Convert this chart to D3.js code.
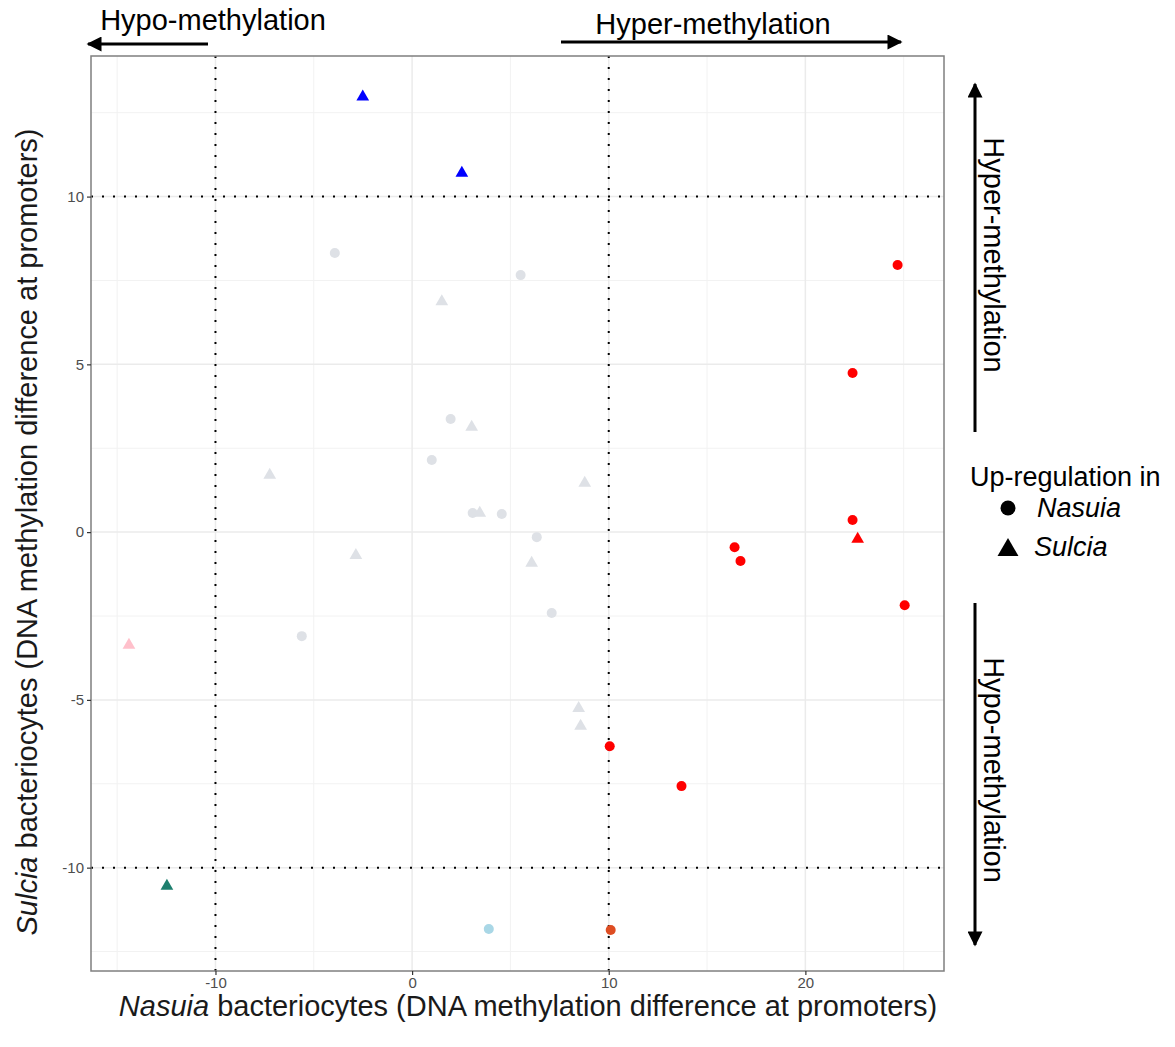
<!DOCTYPE html>
<html>
<head>
<meta charset="utf-8">
<script src="https://cdn.jsdelivr.net/npm/d3@7"></script>
<style>
  body { margin: 0; background: #fff; }
  svg { font-family: "Liberation Sans", Arial, sans-serif; }
</style>
</head>
<body>
<svg id="chart" width="1175" height="1047"></svg>
<script>
// -------------------------
// Data
// -------------------------
// x = Nasuia methylation difference, y = Sulcia methylation difference
const circleX = [-3.93, 5.52, 1.96, 1.0, 3.08, 4.56, 6.34, 7.10, -5.61, 3.90,
                 24.69, 22.4, 22.4, 16.4, 16.7, 25.05, 10.05, 13.7, 10.1];
const circleY = [8.32, 7.66, 3.37, 2.15, 0.57, 0.54, -0.15, -2.41, -3.10, -11.83,
                 7.96, 4.74, 0.36, -0.45, -0.86, -2.18, -6.38, -7.57, -11.86];
const circleCol = ["grey", "grey", "grey", "grey", "grey", "grey", "grey", "grey", "grey", "lightblue",
                   "red", "red", "red", "red", "red", "red", "red", "red", "orange"];

const triX = [-2.51, 2.53, 1.51, 3.03, -7.24, 8.78, 3.44, -2.86, 6.08, 8.47, 8.57, -14.4, -12.47, 22.66];
const triY = [13.0, 10.73, 6.9, 3.16, 1.73, 1.49, 0.6, -0.66, -0.89, -5.22, -5.75, -3.34, -10.52, -0.18];
const triCol = ["blue", "blue", "grey", "grey", "grey", "grey", "grey", "grey", "grey", "grey", "grey",
                "pink", "teal", "red"];

const xTicks = [-10, 0, 10, 20];
const yTicks = [-10, -5, 0, 5, 10];
const xMinor = [-15, -5, 5, 15, 25];
const yMinor = [-12.5, -7.5, -2.5, 2.5, 7.5, 12.5];
const cutX = [-10, 10];
const cutY = [-10, 10];

const palette = {
    grey: "#dee1e6", lightblue: "#a9d7e6", red: "#ff0000", orange: "#de4d22",
    blue: "#0000ff", pink: "#ffc0cb", teal: "#1d7f6e"
};

// -------------------------
// Layout
// -------------------------
const svg = d3.select("#chart");
const P = {left: 91, right: 944, top: 56, bottom: 971};

const x = d3.scaleLinear().domain([-16.33, 27.05]).range([P.left, P.right]);
const y = d3.scaleLinear().domain([-13.08, 14.19]).range([P.bottom, P.top]);

const g = svg.append("g");

// gridlines
g.selectAll("line.xminor").data(xMinor).enter().append("line")
    .attr("x1", d => x(d)).attr("x2", d => x(d)).attr("y1", P.top).attr("y2", P.bottom)
    .attr("stroke", "#f2f2f2").attr("stroke-width", 1);
g.selectAll("line.yminor").data(yMinor).enter().append("line")
    .attr("y1", d => y(d)).attr("y2", d => y(d)).attr("x1", P.left).attr("x2", P.right)
    .attr("stroke", "#f2f2f2").attr("stroke-width", 1);
g.selectAll("line.xmajor").data(xTicks).enter().append("line")
    .attr("x1", d => x(d)).attr("x2", d => x(d)).attr("y1", P.top).attr("y2", P.bottom)
    .attr("stroke", "#ebebeb").attr("stroke-width", 1.5);
g.selectAll("line.ymajor").data(yTicks).enter().append("line")
    .attr("y1", d => y(d)).attr("y2", d => y(d)).attr("x1", P.left).attr("x2", P.right)
    .attr("stroke", "#ebebeb").attr("stroke-width", 1.5);

// dotted cut-off lines
g.selectAll("line.cx").data(cutX).enter().append("line")
    .attr("x1", d => x(d)).attr("x2", d => x(d)).attr("y1", P.top).attr("y2", P.bottom)
    .attr("stroke", "#000").attr("stroke-width", 2).attr("stroke-dasharray", "2,9");
g.selectAll("line.cy").data(cutY).enter().append("line")
    .attr("y1", d => y(d)).attr("y2", d => y(d)).attr("x1", P.left).attr("x2", P.right)
    .attr("stroke", "#000").attr("stroke-width", 2).attr("stroke-dasharray", "2,9");

// points
const circles = circleX.map((v, i) => ({x: v, y: circleY[i], c: circleCol[i]}));
const tris = triX.map((v, i) => ({x: v, y: triY[i], c: triCol[i]}));
const triPath = d3.symbol().type(d3.symbolTriangle).size(70);

g.selectAll("circle.pt").data(circles).enter().append("circle")
    .attr("cx", d => x(d.x)).attr("cy", d => y(d.y)).attr("r", 5)
    .attr("fill", d => palette[d.c]);
g.selectAll("path.pt").data(tris).enter().append("path")
    .attr("d", triPath)
    .attr("transform", d => `translate(${x(d.x)},${y(d.y) + 1})`)
    .attr("fill", d => palette[d.c]);

// panel border
g.append("rect")
    .attr("x", P.left).attr("y", P.top)
    .attr("width", P.right - P.left).attr("height", P.bottom - P.top)
    .attr("fill", "none").attr("stroke", "#7f7f7f").attr("stroke-width", 1.5);

// axes
const fmt = d => String(d);
const xAxis = svg.append("g").attr("transform", `translate(0,${P.bottom})`)
    .call(d3.axisBottom(x).tickValues(xTicks).tickFormat(fmt).tickSize(4).tickPadding(2));
const yAxis = svg.append("g").attr("transform", `translate(${P.left},0)`)
    .call(d3.axisLeft(y).tickValues(yTicks).tickFormat(fmt).tickSize(4).tickPadding(3));
[xAxis, yAxis].forEach(a => {
    a.attr("font-size", 15).attr("font-family", "Liberation Sans, Arial, sans-serif");
    a.select(".domain").remove();
    a.selectAll(".tick line").attr("stroke", "#333").attr("stroke-width", 1.2);
    a.selectAll(".tick text").attr("fill", "#4d4d4d");
});

// axis titles
const xt = svg.append("text").attr("x", 528).attr("y", 1016)
    .attr("text-anchor", "middle").style("font-size", "29px").attr("fill", "#1a1a1a");
xt.append("tspan").style("font-style", "italic").text("Nasuia");
xt.append("tspan").text(" bacteriocytes (DNA methylation difference at promoters)");

const yt = svg.append("text")
    .attr("transform", "translate(37,532) rotate(-90)")
    .attr("text-anchor", "middle").style("font-size", "29px").attr("fill", "#1a1a1a");
yt.append("tspan").style("font-style", "italic").text("Sulcia");
yt.append("tspan").text(" bacteriocytes (DNA methylation difference at promoters)");

// -------------------------
// Direction arrows
// -------------------------
const defs = svg.append("defs");
defs.append("marker").attr("id", "head")
    .attr("viewBox", "0 0 10 10").attr("refX", 9).attr("refY", 5)
    .attr("markerWidth", 6).attr("markerHeight", 5).attr("markerUnits", "strokeWidth")
    .attr("orient", "auto")
    .append("path").attr("d", "M0,0 L10,5 L0,10 Z").attr("fill", "#000");

function arrow(x1, y1, x2, y2) {
    svg.append("line").attr("x1", x1).attr("y1", y1).attr("x2", x2).attr("y2", y2)
        .attr("stroke", "#000").attr("stroke-width", 3).attr("marker-end", "url(#head)");
}
arrow(208, 44, 88, 44);
arrow(561, 42, 901, 42);
arrow(975, 432, 975, 84);
arrow(975, 603, 975, 945);

svg.append("text").attr("x", 213).attr("y", 30).attr("text-anchor", "middle")
    .style("font-size", "29px").text("Hypo-methylation");
svg.append("text").attr("x", 713).attr("y", 34).attr("text-anchor", "middle")
    .style("font-size", "29px").text("Hyper-methylation");
svg.append("text").attr("transform", "translate(984,255) rotate(90)").attr("text-anchor", "middle")
    .style("font-size", "29px").text("Hyper-methylation");
svg.append("text").attr("transform", "translate(984,770) rotate(90)").attr("text-anchor", "middle")
    .style("font-size", "29px").text("Hypo-methylation");

// -------------------------
// Legend
// -------------------------
const lg = svg.append("g");
lg.append("text").attr("x", 970).attr("y", 486).style("font-size", "27px").text("Up-regulation in");
lg.append("circle").attr("cx", 1008).attr("cy", 508).attr("r", 7.5).attr("fill", "#000");
lg.append("text").attr("x", 1037).attr("y", 517).style("font-size", "27px").style("font-style", "italic").text("Nasuia");
lg.append("path").attr("d", d3.symbol().type(d3.symbolTriangle).size(190))
    .attr("transform", "translate(1008,550)").attr("fill", "#000");
lg.append("text").attr("x", 1034).attr("y", 556).style("font-size", "27px").style("font-style", "italic").text("Sulcia");
</script>
</body>
</html>
